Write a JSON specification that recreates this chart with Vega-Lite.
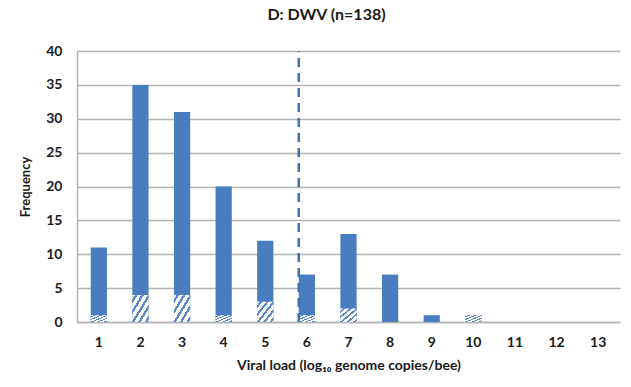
{
  "$schema": "https://vega.github.io/schema/vega-lite/v6.json",
  "autosize": "none",
  "width": 543,
  "height": 271,
  "padding": {"left": 77, "top": 51, "right": 11, "bottom": 65},
  "background": "white",
  "config": {
    "view": {"stroke": null},
    "font": "Lato",
    "axis": {"labelFont": "Lato", "titleFont": "Lato", "labelFontWeight": "bold", "titleFontWeight": "bold", "labelFontSize": 14, "titleFontSize": 13, "labelColor": "#1a1a1a", "titleColor": "#1a1a1a", "ticks": false, "domainColor": "#b4b4b4", "domainWidth": 1.5, "gridColor": "#b4b4b4", "gridWidth": 1.5},
    "axisY": {"values": [0, 5, 10, 15, 20, 25, 30, 35, 40], "labelOverlap": false, "labelPadding": 15, "titlePadding": 13, "grid": true, "domain": true}
  },
  "title": {"text": "D: DWV (n=138)", "font": "Lato", "fontSize": 16, "fontWeight": "bold", "color": "#1a1a1a", "anchor": "middle", "dx": -22, "offset": 21},
  "data": {"values": [
    {"load": 1, "total": 11, "hatched": 1},
    {"load": 2, "total": 35, "hatched": 4},
    {"load": 3, "total": 31, "hatched": 4},
    {"load": 4, "total": 20, "hatched": 1},
    {"load": 5, "total": 12, "hatched": 3},
    {"load": 6, "total": 7, "hatched": 1},
    {"load": 7, "total": 13, "hatched": 2},
    {"load": 8, "total": 7, "hatched": 0},
    {"load": 9, "total": 1, "hatched": 0},
    {"load": 10, "total": 1, "hatched": 1},
    {"load": 11, "total": 0, "hatched": 0},
    {"load": 12, "total": 0, "hatched": 0},
    {"load": 13, "total": 0, "hatched": 0}
  ]},
  "encoding": {
    "x": {"field": "load", "type": "ordinal", "scale": {"paddingInner": 0.61, "paddingOuter": 0.33},
      "axis": {"labelAngle": 0, "labelPadding": 13, "title": "Viral load (log₁₀ genome copies/bee)", "titlePadding": 9, "titleFontSize": 14, "grid": false}}
  },
  "layer": [
    {
      "mark": {"type": "bar", "color": "#4a7dbf"},
      "encoding": {
        "y": {"field": "total", "type": "quantitative", "scale": {"domain": [0, 40]}, "title": "Frequency"}
      }
    },
    {
      "transform": [{"filter": "datum.hatched > 0"}],
      "mark": {"type": "bar", "fill": {"gradient": "linear", "x1": 0, "y1": 0, "x2": 1, "y2": 1, "stops": [
        {"offset": 0, "color": "#ffffff"}, {"offset": 0.08, "color": "#ffffff"},
        {"offset": 0.08, "color": "#5b87c4"}, {"offset": 0.16, "color": "#5b87c4"},
        {"offset": 0.16, "color": "#ffffff"}, {"offset": 0.28, "color": "#ffffff"},
        {"offset": 0.28, "color": "#5b87c4"}, {"offset": 0.36, "color": "#5b87c4"},
        {"offset": 0.36, "color": "#ffffff"}, {"offset": 0.48, "color": "#ffffff"},
        {"offset": 0.48, "color": "#5b87c4"}, {"offset": 0.56, "color": "#5b87c4"},
        {"offset": 0.56, "color": "#ffffff"}, {"offset": 0.68, "color": "#ffffff"},
        {"offset": 0.68, "color": "#5b87c4"}, {"offset": 0.76, "color": "#5b87c4"},
        {"offset": 0.76, "color": "#ffffff"}, {"offset": 0.88, "color": "#ffffff"},
        {"offset": 0.88, "color": "#5b87c4"}, {"offset": 0.96, "color": "#5b87c4"},
        {"offset": 0.96, "color": "#ffffff"}, {"offset": 1, "color": "#ffffff"}
      ]}},
      "encoding": {
        "y": {"field": "hatched", "type": "quantitative", "title": "Frequency"}
      }
    },
    {
      "transform": [{"filter": "datum.load == 6"}],
      "mark": {"type": "rule", "color": "#3f70b0", "strokeWidth": 2.5, "strokeDash": [9, 6]},
      "encoding": {
        "x": {"field": "load", "type": "ordinal", "bandPosition": 0},
        "y": {"datum": 0, "title": "Frequency"},
        "y2": {"datum": 40}
      }
    }
  ]
}
